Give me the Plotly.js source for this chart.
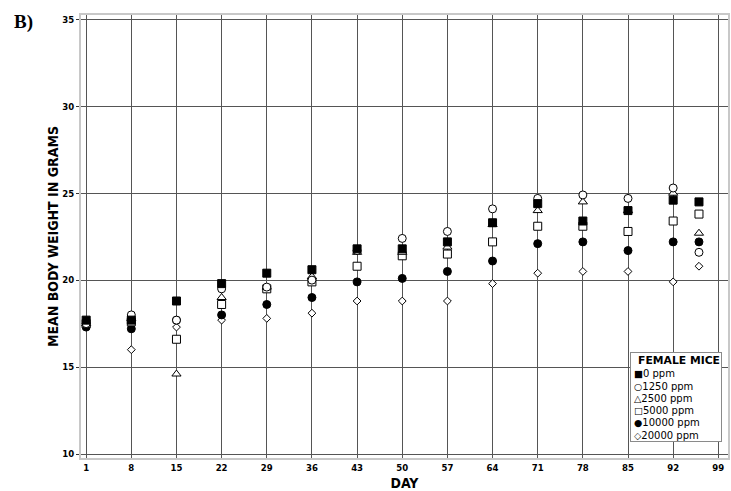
<!DOCTYPE html>
<html>
<head>
<meta charset="utf-8">
<script src="https://cdn.plot.ly/plotly-3.0.1.min.js"></script>
<style>html,body{margin:0;padding:0;background:#fff;}#chart{width:731px;height:491px;}</style>
</head>
<body>
<div id="chart"></div>
<script>
const days = [1, 8, 15, 22, 29, 36, 43, 50, 57, 64, 71, 78, 85, 92, 96];
const ppm0     = [17.7, 17.7, 18.8, 19.8, 20.4, 20.6, 21.8, 21.8, 22.2, 23.3, 24.4, 23.4, 24.0, 24.6, 24.5];
const ppm1250  = [17.5, 18.0, 17.7, 19.5, 19.6, 20.0, 21.7, 22.4, 22.8, 24.1, 24.7, 24.9, 24.7, 25.3, 21.6];
const ppm2500  = [17.5, 17.8, 14.6, 19.0, 19.6, 20.2, 21.6, 21.6, 21.9, 23.2, 24.0, 24.5, 24.0, 25.0, 22.7];
const ppm5000  = [17.5, 17.6, 16.6, 18.6, 19.5, 19.9, 20.8, 21.4, 21.5, 22.2, 23.1, 23.1, 22.8, 23.4, 23.8];
const ppm10000 = [17.3, 17.2, 17.7, 18.0, 18.6, 19.0, 19.9, 20.1, 20.5, 21.1, 22.1, 22.2, 21.7, 22.2, 22.2];
const ppm20000 = [17.4, 16.0, 17.3, 17.7, 17.8, 18.1, 18.8, 18.8, 18.8, 19.8, 20.4, 20.5, 20.5, 19.9, 20.8];
const seriesNames = ['0 ppm', '1250 ppm', '2500 ppm', '5000 ppm', '10000 ppm', '20000 ppm'];
const legendGlyphs = ['■', '○', '△', '□', '●', '◇'];
const xTicks = [1, 8, 15, 22, 29, 36, 43, 50, 57, 64, 71, 78, 85, 92, 99];
const yTicks = [10, 15, 20, 25, 30, 35];

const W = 731, H = 491;
const M = {l: 81, r: 3, t: 15, b: 33};
const PW = W - M.l - M.r, PH = H - M.t - M.b;
const pxX = x => (x - M.l) / PW;
const pxY = y => (H - M.b - y) / PH;

const styles = [
  {symbol: 'square', color: '#000', size: 8},
  {symbol: 'circle', color: '#fff', size: 8},
  {symbol: 'triangle-up', color: '#fff', size: 8},
  {symbol: 'square', color: '#fff', size: 8},
  {symbol: 'circle', color: '#000', size: 8},
  {symbol: 'diamond', color: '#fff', size: 6}
];
const values = [ppm0, ppm1250, ppm2500, ppm5000, ppm10000, ppm20000];
const traces = values.map((v, i) => ({
  x: days, y: v, name: seriesNames[i], type: 'scatter', mode: 'markers',
  marker: {symbol: styles[i].symbol, color: styles[i].color, size: styles[i].size, line: {color: '#000', width: 1}}
}));
const drawn = traces.slice().reverse();

const FONT = '"DejaVu Sans Condensed", "DejaVu Sans", sans-serif';
const annotations = [
  {
    text: '<b>B)</b>', xref: 'paper', yref: 'paper', x: pxX(23), y: pxY(22), xanchor: 'center', yanchor: 'middle',
    showarrow: false, font: {size: 19, family: 'Liberation Serif', color: '#000'}
  },
  {
    text: '<b>FEMALE MICE</b>', xref: 'paper', yref: 'paper', x: pxX(675.5), y: pxY(396.5),
    xanchor: 'center', yanchor: 'middle', showarrow: false, width: 88, height: 86,
    align: 'right', valign: 'top', bgcolor: '#fff', bordercolor: '#8a8a8a', borderwidth: 1, borderpad: 1,
    font: {size: 10.8, family: 'DejaVu Sans', color: '#000'}
  }
];
seriesNames.forEach((n, i) => {
  annotations.push({
    text: '<span style="font-size:9.5px">' + legendGlyphs[i] + '</span>' + n,
    xref: 'paper', yref: 'paper', x: pxX(632), y: pxY(374 + 12.2 * i),
    xanchor: 'left', yanchor: 'middle', showarrow: false,
    font: {size: 10, family: 'DejaVu Sans', color: '#000'}
  });
});

const layout = {
  width: W, height: H,
  margin: M,
  paper_bgcolor: '#fff', plot_bgcolor: '#fff',
  font: {family: FONT, color: '#000'},
  showlegend: false,
  xaxis: {
    range: [0.2, 100.5], tickvals: xTicks, ticktext: xTicks.map(String),
    showgrid: true, gridcolor: '#555', gridwidth: 1, zeroline: false,
    showline: true, mirror: true, linecolor: '#c8c8c8', linewidth: 2,
    ticks: '', tickfont: {size: 9.5, family: FONT, weight: 'bold', color: '#000'},
    title: {text: '<b>DAY</b>', font: {size: 14, family: FONT, color: '#000'}, standoff: 6}
  },
  yaxis: {
    range: [9.77, 35.25], tickvals: yTicks, ticktext: yTicks.map(String),
    showgrid: true, gridcolor: '#555', gridwidth: 1, zeroline: false,
    showline: true, mirror: true, linecolor: '#c8c8c8', linewidth: 2,
    ticks: 'outside', ticklen: 3, tickcolor: '#333', tickfont: {size: 9.5, family: FONT, weight: 'bold', color: '#000'},
    title: {text: '<b>MEAN BODY WEIGHT IN GRAMS</b>', font: {size: 14, family: FONT, color: '#000'}, standoff: 0}
  },
  annotations: annotations
};
Plotly.newPlot('chart', drawn, layout, {displayModeBar: false, staticPlot: true});
</script>
</body>
</html>
